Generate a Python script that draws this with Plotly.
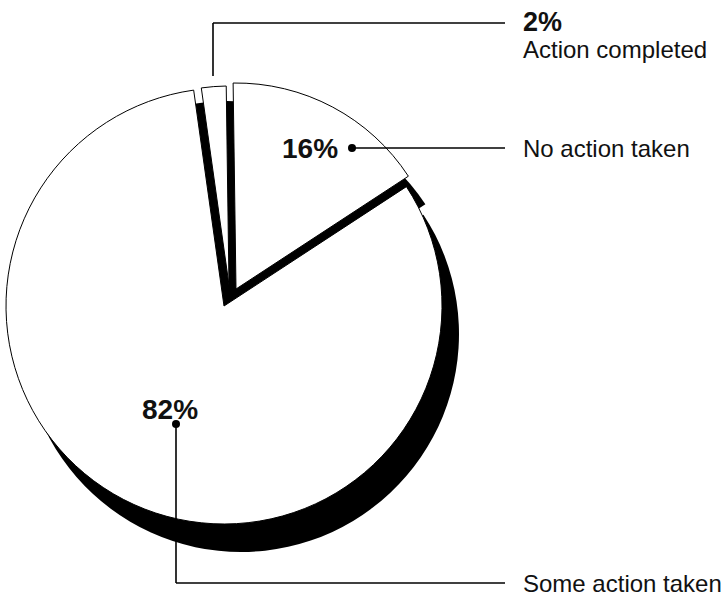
import plotly.graph_objects as go

# ---- data ----
categories = ["Action completed", "No action taken", "Some action taken"]
values = [2, 16, 82]
value_labels = ["2%", "16%", "82%"]

# ---- layout constants (pixels) ----
W, H = 724, 597
ROTATION = -8
# per-slice apex position and radius (exploded-pie look)
slice_apex = [(229, 285), (236, 289), (224, 306)]
slice_radius = [199, 206, 218]
SHX, SHY = 17, 28  # shadow offset
CORE = (227, 299, 198)  # black core seen through the gaps between slices


def px(x):
    return x / W


def py(y):
    return 1 - y / H


def domain(cx, cy, r):
    return dict(x=[max(0, px(cx - r)), min(1, px(cx + r))],
                y=[max(0, py(cy + r)), min(1, py(cy - r))])


def slice_trace(i, cx, cy, r, fill, lw):
    n = len(values)
    colors = [fill if j == i else "rgba(0,0,0,0)" for j in range(n)]
    widths = [lw if j == i else 0 for j in range(n)]
    return go.Pie(labels=categories, values=values, sort=False, direction="clockwise",
                  rotation=ROTATION, textinfo="none", hoverinfo="skip", showlegend=False,
                  domain=domain(cx, cy, r),
                  marker=dict(colors=colors, line=dict(color="black", width=widths)))


fig = go.Figure()
# shadows
for i in range(len(values)):
    ax, ay = slice_apex[i]
    fig.add_trace(slice_trace(i, ax + SHX, ay + SHY, slice_radius[i], "black", 0))
# white slices
for i in range(len(values)):
    ax, ay = slice_apex[i]
    fig.add_trace(slice_trace(i, ax, ay, slice_radius[i], "white", 1))

FONT = "Liberation Sans, Arial, Helvetica, sans-serif"
LW = 1.6
shapes = []
annotations = []

# black core below the pie layers
cx, cy, cr = CORE
shapes.append(dict(type="circle", xref="paper", yref="paper", layer="below",
                   x0=px(cx - cr), y0=py(cy + cr), x1=px(cx + cr), y1=py(cy - cr),
                   fillcolor="black", line=dict(width=0)))


def line(x0, y0, x1, y1):
    shapes.append(dict(type="line", xref="paper", yref="paper",
                       x0=px(x0), y0=py(y0), x1=px(x1), y1=py(y1),
                       line=dict(color="black", width=LW)))


def dot(x, y, r=4):
    shapes.append(dict(type="circle", xref="paper", yref="paper",
                       x0=px(x - r), y0=py(y + r), x1=px(x + r), y1=py(y - r),
                       fillcolor="black", line=dict(color="black", width=0)))


def text(x, y, s, size, bold=False, anchor="left"):
    annotations.append(dict(x=px(x), y=py(y), xref="paper", yref="paper",
                            text=("<b>%s</b>" % s) if bold else s, showarrow=False,
                            xanchor=anchor, yanchor="middle",
                            font=dict(family=FONT, size=size, color="#111111")))


# 2% leader
line(213, 76, 213, 23)
line(213, 23, 505, 23)
text(521, 22, value_labels[0], 27, bold=True)
text(521, 50, categories[0], 24)

# 16% leader
dot(352, 148)
line(352, 148, 505, 148)
text(340, 148, value_labels[1], 28, bold=True, anchor="right")
text(521, 148, categories[1], 24)

# 82% leader
dot(176, 424)
line(176, 424, 176, 583)
line(176, 583, 505, 583)
text(170, 409, value_labels[2], 28, bold=True, anchor="center")
text(521, 583, categories[2], 24)

fig.update_layout(width=W, height=H, margin=dict(l=0, r=0, t=0, b=0),
                  paper_bgcolor="white", plot_bgcolor="white",
                  shapes=shapes, annotations=annotations)

fig.write_html("out.html")
